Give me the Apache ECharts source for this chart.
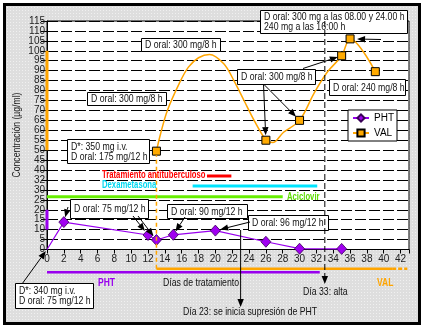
<!DOCTYPE html>
<html>
<head>
<meta charset="utf-8">
<script src="https://cdn.jsdelivr.net/npm/echarts@6/dist/echarts.min.js"></script>
<style>
  html, body { margin: 0; padding: 0; background: #fff; }
  #frame { position: absolute; left: 3px; top: 3px; width: 418px; height: 322px; box-sizing: border-box;
           border: 3px solid #000; background-color: #dedede;
           background-image: radial-gradient(#f0f0f0 0.7px, transparent 0.9px);
           background-size: 3px 3px; }
  #chart { position: absolute; left: 0; top: 0; width: 427px; height: 327px; }
</style>
</head>
<body>
<div id="frame"></div>
<div id="chart"></div>
<script>
const FONT = '"Liberation Sans", Arial, sans-serif'

// ejes
const xTicks = [0, 2, 4, 6, 8, 10, 12, 14, 16, 18, 20, 22, 24, 26, 28, 30, 32, 34, 36, 38, 40, 42]
const yTickLabels = ['0', '5', '10', '15', '20', '25', '30', '32', '40', '45', '50', '55', '60', '65',
                     '70', '75', '80', '85', '90', '95', '100', '105', '110', '115']

// fenitoina (PHT): [dia, ug/ml]
const phtPoints = [[0, 0], [2, 13.8], [12, 7.3], [13, 4.8], [15, 7.4], [20, 9.5], [26, 3.9], [30, 0.4], [35, 0.3]]
const phtMarked = [2, 12, 13, 15, 20, 26, 30, 35]

// valproato (VAL): curva, solo algunos puntos con marcador
const valCurve = [[13, 49.5], [13.5, 58.4], [14.3, 70], [15.7, 83.5], [16.8, 91.8], [18, 96.5], [19.3, 98.2],
                  [21, 93.5], [22.2, 85], [23.4, 75], [24.6, 65], [25.6, 57.5], [26, 55], [26.8, 53.8],
                  [28.1, 59], [30, 65], [31.7, 78.5], [33.3, 89.3], [35, 97.5], [36, 106], [39, 89.5]]
const valMarked = [13, 26, 30, 35, 36, 39]

// rangos terapeuticos en el eje
const phtRange = [10, 20]
const valRange = [50, 100]

// otros tratamientos
const medNames = ['Tratamiento antituberculoso', 'Dexametasona', 'Aciclovir']
const medLevel = [37, 32, 26.5]
const medStart = [19, 17.3, 0]
const medEnd = [21.9, 32.1, 28]
const medColor = ['#ff0000', '#00e5ff', '#66ee00']

// barras de tratamiento bajo el eje x (dias)
const phtSpan = [0, 32.4]
const valSpan = [13, 41, 42.8]

const PURPLE = '#9900ee'
const ORANGE = '#ffa500'

const chart = echarts.init(document.getElementById('chart'), null, { renderer: 'canvas' })

const medSeries = medNames.map((n, i) => ({
  name: n, type: 'line', silent: true, symbol: 'none', z: 3,
  lineStyle: { color: medColor[i], width: 3 },
  data: [[medStart[i], medLevel[i]], [medEnd[i], medLevel[i]]]
}))

let option = {
  backgroundColor: 'transparent',
  animation: false,
  grid: { left: 47, right: 18, top: 21, bottom: 77.5, show: true, backgroundColor: '#fff',
          borderColor: '#000', borderWidth: 1, outerBoundsMode: 'none' },
  legend: {
    data: ['PHT', 'VAL'], orient: 'vertical', left: 348, top: 110,
    itemWidth: 16, itemHeight: 9, itemGap: 5, padding: [3, 3, 3, 4],
    backgroundColor: '#fff', borderColor: '#000', borderWidth: 1,
    textStyle: { fontFamily: FONT, fontSize: 10, color: '#000' }
  },
  xAxis: {
    type: 'value', min: 0, max: 43, interval: 2,
    axisLine: { onZero: false, lineStyle: { color: '#000' } },
    axisTick: { length: 4, lineStyle: { color: '#000' } },
    axisLabel: { color: '#222', fontFamily: FONT, fontSize: 10, margin: 5, hideOverlap: false,
                 showMinLabel: true,
                 formatter: v => (xTicks.indexOf(v) >= 0 ? String(v) : '') },
    splitLine: { show: false }
  },
  yAxis: {
    type: 'value', min: 0, max: 115, interval: 5,
    axisLine: { show: true, lineStyle: { color: '#000' } },
    axisTick: { show: true, length: 6, lineStyle: { color: '#000' } },
    axisLabel: { color: '#222', fontFamily: FONT, fontSize: 10, margin: 2, hideOverlap: false,
                 showMinLabel: true, showMaxLabel: true,
                 formatter: v => yTickLabels[Math.round(v / 5)] },
    splitLine: { show: true, lineStyle: { color: '#000', width: 1, type: [11, 3] } }
  },
  series: [
    ...medSeries,
    { name: 'rangoVAL', type: 'line', silent: true, symbol: 'none', clip: false, z: 4,
      lineStyle: { color: ORANGE, width: 3 }, data: [[0, valRange[0]], [0, valRange[1]]] },
    { name: 'rangoPHT', type: 'line', silent: true, symbol: 'none', clip: false, z: 4,
      lineStyle: { color: PURPLE, width: 3 }, data: [[0, phtRange[0]], [0, phtRange[1]]] },
    {
      name: 'PHT', type: 'line', z: 6, color: PURPLE,
      symbol: 'diamond', symbolSize: [10, 11],
      lineStyle: { color: PURPLE, width: 1.2 },
      itemStyle: { color: '#a000f0', borderColor: '#3a0058', borderWidth: 0.8 },
      data: phtPoints.map(p => ({ value: p, symbol: phtMarked.indexOf(p[0]) >= 0 ? 'diamond' : 'none' }))
    },
    {
      name: 'VAL', type: 'line', z: 6, color: ORANGE, smooth: 0.35,
      symbol: 'rect', symbolSize: 8,
      lineStyle: { color: ORANGE, width: 1.5 },
      itemStyle: { color: '#ffaa00', borderColor: '#000', borderWidth: 1 },
      data: valCurve.map(p => ({ value: p, symbol: valMarked.indexOf(p[0]) >= 0 ? 'rect' : 'none' }))
    }
  ]
}

chart.setOption(option)

// ---- anotaciones ----
const px = (x, y) => chart.convertToPixel({ gridIndex: 0 }, [x, y])
const g = []

// texto estrecho: fuente normal comprimida en horizontal
function text(str, x, y, opts) {
  opts = opts || {}
  g.push({
    type: 'text', z: 60, x: x, y: y, rotation: opts.rot || 0,
    scaleX: opts.sx || 0.83,
    style: {
      text: str, fill: opts.color || '#111',
      font: (opts.bold ? 'bold ' : '') + (opts.size || 10.5) + 'px ' + FONT,
      align: opts.align || 'left', verticalAlign: 'middle',
      textAlign: opts.align || 'left', textVerticalAlign: 'middle',
      lineHeight: opts.lh || 10
    }
  })
}

function box(x0, y0, x1, y1, lines) {
  g.push({ type: 'rect', z: 55, shape: { x: x0 + 0.5, y: y0 + 0.5, width: x1 - x0, height: y1 - y0 },
           style: { fill: '#fff', stroke: '#000', lineWidth: 1 } })
  text(lines.join('\n'), x0 + 4, (y0 + y1) / 2 + 1, { lh: 10 })
}

function arrow(p1, p2, dashed) {
  const dx = p2[0] - p1[0], dy = p2[1] - p1[1]
  const len = Math.hypot(dx, dy), ux = dx / len, uy = dy / len
  const hl = 8, hw = 3.2
  const bx = p2[0] - ux * hl, by = p2[1] - uy * hl
  g.push({ type: 'line', z: 58, shape: { x1: p1[0], y1: p1[1], x2: bx, y2: by },
           style: { stroke: '#000', lineWidth: 1, lineDash: dashed ? [6, 3] : null } })
  g.push({ type: 'polygon', z: 58,
           shape: { points: [[p2[0], p2[1]], [bx - uy * hw, by + ux * hw], [bx + uy * hw, by - ux * hw]] },
           style: { fill: '#000' } })
}

// flecha hacia un punto de datos, parando antes del marcador
function arrowTo(p1, x, y, gap) {
  const t = px(x, y)
  const dx = t[0] - p1[0], dy = t[1] - p1[1]
  const len = Math.hypot(dx, dy)
  arrow(p1, [t[0] - dx / len * gap, t[1] - dy / len * gap])
}

// barras bajo el eje
const yVal = 268.7, yPht = 272.3
g.push({ type: 'line', z: 20, shape: { x1: px(valSpan[0], 0)[0], y1: yVal, x2: px(valSpan[1], 0)[0], y2: yVal },
         style: { stroke: ORANGE, lineWidth: 2.5 } })
g.push({ type: 'line', z: 20, shape: { x1: px(valSpan[1], 0)[0], y1: yVal, x2: px(valSpan[2], 0)[0], y2: yVal },
         style: { stroke: ORANGE, lineWidth: 2.5, lineDash: [4, 2] } })
g.push({ type: 'line', z: 20, shape: { x1: px(phtSpan[0], 0)[0], y1: yPht, x2: px(phtSpan[1], 0)[0], y2: yPht },
         style: { stroke: PURPLE, lineWidth: 2.5 } })
// inicio VAL (dia 13): linea discontinua naranja
const v0 = px(valCurve[0][0], valCurve[0][1])
g.push({ type: 'line', z: 20, shape: { x1: v0[0], y1: yVal, x2: v0[0], y2: v0[1] + 4 },
         style: { stroke: ORANGE, lineWidth: 1.5, lineDash: [4, 3] } })

// titulo eje y
text('Concentración (µg/ml)', 17, 135, { rot: Math.PI / 2, align: 'center', sx: 0.82, color: '#222' })

// etiquetas de tratamientos
text(medNames[0], 102, 175.5, { color: medColor[0], bold: true, size: 10, sx: 0.77 })
text(medNames[1], 102, 185.5, { color: '#00d8f0', bold: true, size: 10, sx: 0.77 })
text(medNames[2], 287, 197, { color: '#5cdc00', bold: true, size: 10, sx: 0.77 })

// dia 33: alta (linea discontinua) y dia 23
const d33 = px(33, 115)[0], d23 = px(23, 0)[0]
arrow([d33, 21], [d33, 284], true)
arrow([d23, 230], [d23, 307])

// flechas a los puntos
arrowTo([22, 284], 0, 0, 2)
arrowTo([68, 207], 2, 13.8, 5)
arrowTo([133, 216], 12, 7.3, 5)
arrowTo([138, 216], 13, 4.8, 5)
arrowTo([185, 217], 15, 7.4, 4)
arrowTo([250, 222], 20, 9.5, 5)
arrowTo([263.5, 84], 26, 55, 5)
arrowTo([263.5, 84], 30, 65, 5)
arrowTo([303, 68.5], 35, 97.5, 4)
arrowTo([381, 39.5], 36, 106, 7)

// cuadros de texto
box(260, 10, 407, 33, ['D oral: 300 mg a las 08.00 y 24.00 h', '240 mg a las 16:00 h'])
box(141, 38, 220, 51, ['D oral: 300 mg/8 h'])
box(87, 92, 166, 105, ['D oral: 300 mg/8 h'])
box(67, 139, 149, 163, ['D*: 350 mg i.v.', 'D oral: 175 mg/12 h'])
box(237, 69, 315, 84, ['D oral: 300 mg/8 h'])
box(329, 79, 405, 95, ['D oral: 240 mg/8 h'])
box(70, 199, 148, 218, ['D oral: 75 mg/12 h'])
box(167, 204, 247, 218, ['D oral: 90 mg/12 h'])
box(248, 215, 328, 230, ['D oral: 96 mg/12 h'])
box(15, 283, 93, 308, ['D*: 340 mg i.v.', 'D oral: 75 mg/12 h'])

// textos bajo el eje
text('PHT', 98, 283, { color: PURPLE, bold: true, size: 10, sx: 0.85 })
text('VAL', 377, 283, { color: ORANGE, bold: true, size: 10, sx: 0.85 })
text('Días de tratamiento', 163, 283)
text('Día 33: alta', 303, 292.5)
text('Día 23: se inicia supresión de PHT', 183, 312.5)

chart.setOption({ graphic: g })
</script>
</body>
</html>
